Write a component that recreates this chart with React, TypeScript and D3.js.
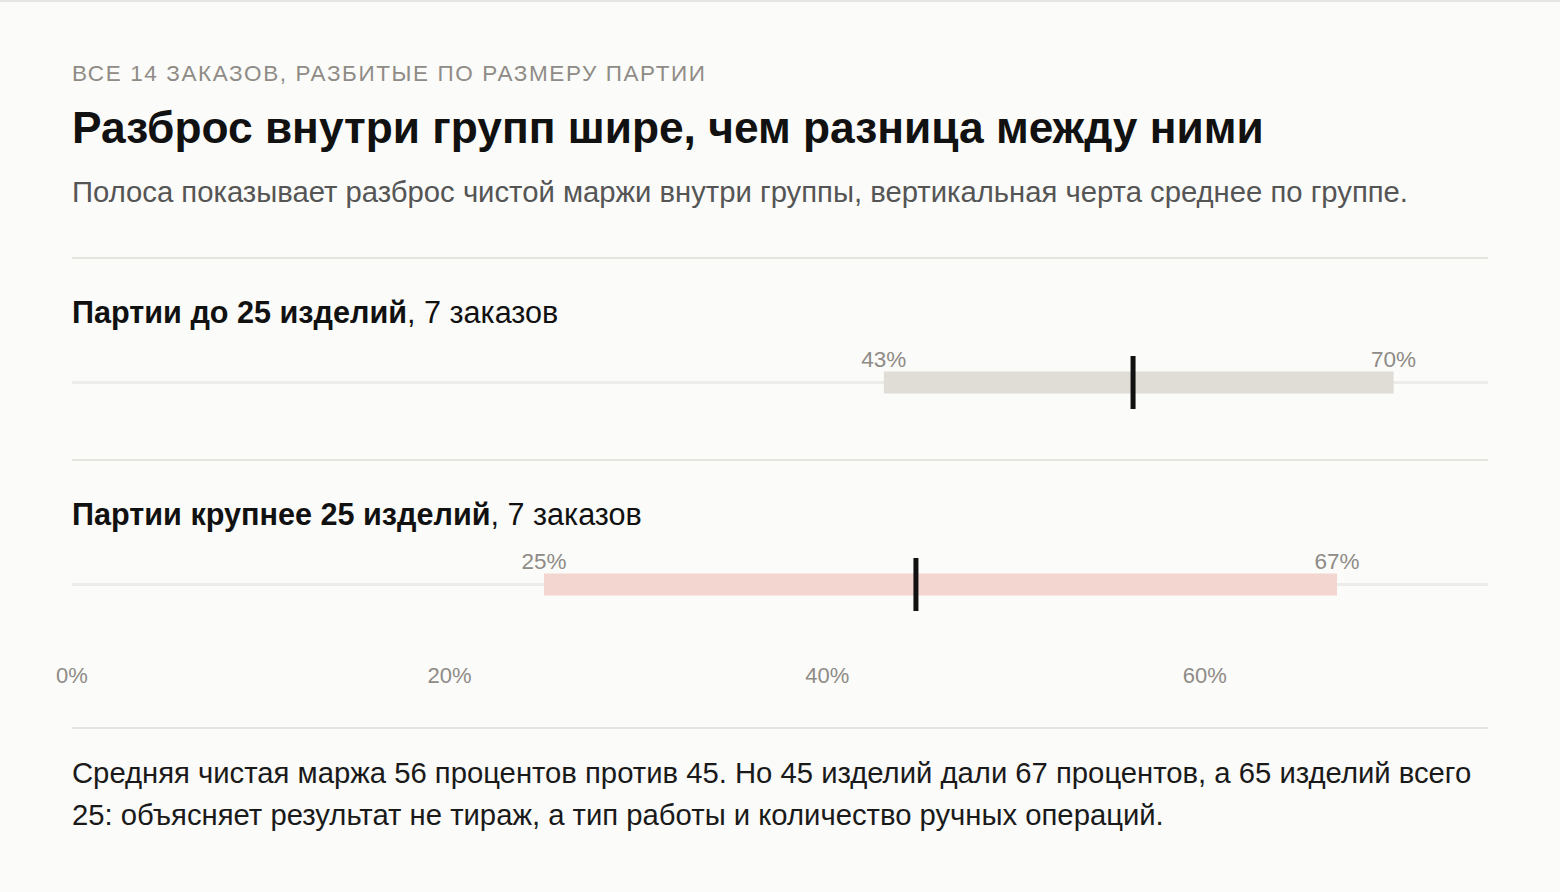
import * as d3 from 'd3'

const groups = ['Партии до 25 изделий', 'Партии крупнее 25 изделий']
const orderCounts = ['7 заказов', '7 заказов']
const minValues = [43, 25]
const maxValues = [70, 67]
const meanValues = [56.2, 44.7]
const barColors = ['#e0ddd6', '#f2d6cf']
const axisTicks = [0, 20, 40, 60]

const kicker = 'ВСЕ 14 ЗАКАЗОВ, РАЗБИТЫЕ ПО РАЗМЕРУ ПАРТИИ'
const title = 'Разброс внутри групп шире, чем разница между ними'
const subtitle = 'Полоса показывает разброс чистой маржи внутри группы, вертикальная черта среднее по группе.'
const noteLines = [
  'Средняя чистая маржа 56 процентов против 45. Но 45 изделий дали 67 процентов, а 65 изделий всего',
  '25: объясняет результат не тираж, а тип работы и количество ручных операций.'
]

const width = 1560
const height = 892
const left = 72
const right = 1488
const font = '"Liberation Sans", Arial, sans-serif'
const muted = '#8f8b86'

export default function App() {
  const x = d3.scaleLinear().domain([0, 75]).range([left, right])
  const rowTop = d3.scaleLinear().domain([0, 1]).range([258, 460])

  return (
    <svg
      width={width}
      height={height}
      style={{ position: 'absolute', left: 0, top: 0, display: 'block', background: '#fbfbf9' }}
      fontFamily={font}
    >
      <line x1={0} x2={width} y1={1} y2={1} stroke="#e6e5e2" strokeWidth={2} />

      <text x={left} y={81} fill={muted} fontSize={22.5} letterSpacing={1.6}>{kicker}</text>
      <text x={left} y={143} fill="#111" fontSize={44.3} fontWeight="bold">{title}</text>
      <text x={left} y={202} fill="#555" fontSize={29.25}>{subtitle}</text>

      {groups.map((g, i) => {
        const top = rowTop(i)
        const trackY = top + 124.5
        return (
          <g key={g}>
            <line x1={left} x2={right} y1={top} y2={top} stroke="#e6e4df" strokeWidth={2} />
            <text x={left} y={top + 65} fill="#111" fontSize={30.6}>
              <tspan fontWeight="bold">{g}</tspan>
              <tspan>, {orderCounts[i]}</tspan>
            </text>
            <line x1={left} x2={right} y1={trackY} y2={trackY} stroke="#eeece8" strokeWidth={3} />
            <rect
              x={x(minValues[i])}
              y={trackY - 11}
              width={x(maxValues[i]) - x(minValues[i])}
              height={22}
              fill={barColors[i]}
            />
            <rect x={x(meanValues[i]) - 2.5} y={trackY - 26.5} width={5} height={53} fill="#111" />
            <text x={x(minValues[i])} y={trackY - 16} textAnchor="middle" fill={muted} fontSize={22.5}>
              {minValues[i]}%
            </text>
            <text x={x(maxValues[i])} y={trackY - 16} textAnchor="middle" fill={muted} fontSize={22.5}>
              {maxValues[i]}%
            </text>
          </g>
        )
      })}

      {axisTicks.map(t => (
        <text key={t} x={x(t)} y={683} textAnchor="middle" fill={muted} fontSize={22}>
          {t}%
        </text>
      ))}

      <line x1={left} x2={right} y1={728} y2={728} stroke="#e6e4df" strokeWidth={2} />

      {noteLines.map((l, i) => (
        <text key={i} x={left} y={783 + i * 42} fill="#1a1a1a" fontSize={29.25}>{l}</text>
      ))}
    </svg>
  )
}
